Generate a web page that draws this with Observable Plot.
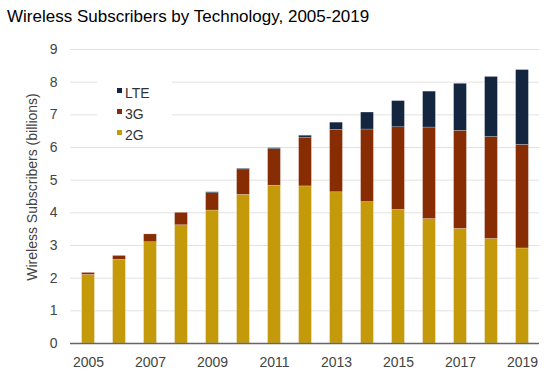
<!DOCTYPE html>
<html>
<head>
<meta charset="utf-8">
<script src="https://cdn.jsdelivr.net/npm/d3@7"></script>
<script src="https://cdn.jsdelivr.net/npm/@observablehq/plot@0.6"></script>
<style>
  html, body { margin: 0; padding: 0; background: #fff; }
  #wrap { position: relative; width: 549px; height: 380px; overflow: hidden; }
  #title { position: absolute; left: 7px; top: 7px; font-family: "Liberation Sans", Arial, sans-serif; font-size: 17px; color: #000; white-space: nowrap; }
  #chart { position: absolute; left: 0; top: 35px; }
  #legend { position: absolute; left: 97px; top: 80px; width: 75px; height: 62px; background: #fff; font-family: "Liberation Sans", Arial, sans-serif; font-size: 14px; color: #333; }
  .item { position: absolute; left: 0; height: 20px; line-height: 20px; }
  .sw { position: absolute; left: 20px; top: 6px; width: 5px; height: 5px; }
  .lab { position: absolute; left: 28px; top: 1px; }
</style>
</head>
<body>
<div id="wrap">
  <div id="title">Wireless Subscribers by Technology, 2005-2019</div>
  <div id="chart"></div>
  <div id="legend"></div>
</div>
<script>
const years = [2005,2006,2007,2008,2009,2010,2011,2012,2013,2014,2015,2016,2017,2018,2019];
const techs = ["2G", "3G", "LTE"];
const values2G  = [2.10,2.56,3.10,3.62,4.07,4.55,4.83,4.81,4.63,4.33,4.09,3.81,3.51,3.20,2.91];
const values3G  = [0.06,0.12,0.24,0.38,0.53,0.78,1.12,1.49,1.91,2.22,2.53,2.80,3.00,3.12,3.17];
const valuesLTE = [0.00,0.00,0.00,0.00,0.03,0.02,0.03,0.06,0.22,0.52,0.80,1.10,1.44,1.84,2.29];
const colors = ["#C49A0A", "#872C03", "#14263F"];
const yTicks = [0,1,2,3,4,5,6,7,8,9];
const xTickYears = years.filter((d, i) => i % 2 === 0);
const yLabel = "Wireless Subscribers (billions)";

const seriesValues = [values2G, values3G, valuesLTE];
const data = [];
techs.forEach((t, k) => years.forEach((y, i) => data.push({year: y, tech: t, value: seriesValues[k][i]})));

const W = 549, H = 345;
const plot = Plot.plot({
  width: W,
  height: H,
  marginLeft: 70,
  marginRight: 10,
  marginTop: 14,
  marginBottom: 37,
  style: {fontFamily: "'Liberation Sans', Arial, sans-serif", fontSize: "14px", color: "#444", background: "#fff"},
  x: {type: "band", domain: years, padding: 0.1, label: null},
  y: {domain: [0, 9], label: null},
  color: {domain: techs, range: colors},
  marks: [
    Plot.gridY(yTicks, {stroke: "#e2e2e2", strokeOpacity: 1, strokeWidth: 1}),
    Plot.barY(data, Plot.stackY({
      x: "year", y: "value", z: "tech", fill: "tech",
      insetLeft: 7.6, insetRight: 7.6,
      stroke: "#ffffff", strokeOpacity: 0.35, strokeWidth: 0.6
    })),
    Plot.ruleY([0], {stroke: "#666", strokeWidth: 1.5}),
    Plot.axisY(yTicks, {tickSize: 0, tickPadding: 13, label: null, fill: "#444", fontSize: 14}),
    Plot.axisX(xTickYears, {tickSize: 0, tickPadding: 14, label: null, fill: "#444", fontSize: 14, tickFormat: d => String(d)})
  ]
});
document.getElementById("chart").appendChild(plot);

// y axis title
d3.select(plot).append("text")
  .attr("transform", `translate(32, ${187 - 35}) rotate(-90)`)
  .attr("text-anchor", "middle")
  .attr("dominant-baseline", "central")
  .attr("fill", "#444")
  .attr("font-size", 14)
  .text(yLabel);

// legend
const legend = document.getElementById("legend");
const order = [2, 1, 0];
order.forEach((k, j) => {
  const item = document.createElement("div");
  item.className = "item";
  item.style.top = (j * 21 + 2) + "px";
  item.innerHTML = `<span class="sw" style="background:${colors[k]}"></span><span class="lab">${techs[k]}</span>`;
  legend.appendChild(item);
});
</script>
</body>
</html>
